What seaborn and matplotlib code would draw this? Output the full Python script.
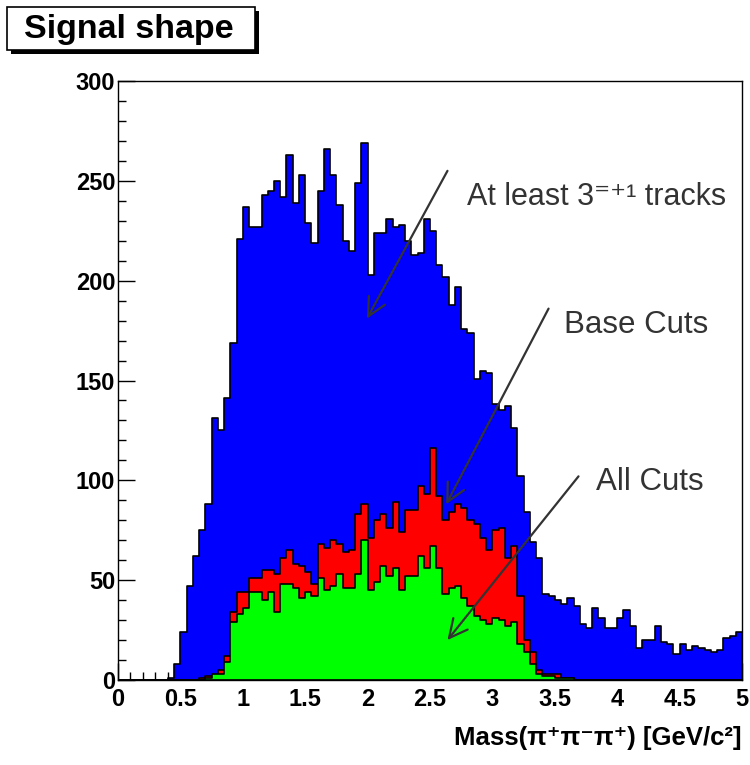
import numpy as np
import pandas as pd
import matplotlib
matplotlib.use("Agg")
import matplotlib.pyplot as plt
from matplotlib.patches import Rectangle
from matplotlib.ticker import MultipleLocator
import seaborn as sns

# Binning: 100 bins of 0.05 GeV/c^2 between 0 and 5
bin_edges = np.linspace(0.0, 5.0, 101)

# Entries per bin, at least 3 (+1) tracks
tracks_3 = [
    0, 0, 0, 0, 0, 0, 0, 0, 1, 8,
    24, 47, 62, 75, 88, 131, 125, 141, 169, 221,
    237, 227, 227, 243, 245, 250, 242, 263, 239, 253,
    229, 219, 245, 266, 253, 238, 220, 215, 249, 269,
    203, 224, 224, 231, 227, 228, 220, 213, 214, 231,
    225, 208, 202, 188, 197, 176, 174, 151, 155, 154,
    138, 135, 137, 126, 102, 84, 69, 61, 43, 42,
    40, 38, 41, 37, 28, 26, 36, 31, 26, 26,
    31, 35, 27, 16, 20, 20, 27, 19, 18, 13,
    18, 15, 17, 16, 15, 14, 15, 21, 22, 24,
]

# Entries per bin after the base cuts
base_cuts = [
    0, 0, 0, 0, 0, 0, 0, 0, 0, 0,
    0, 0, 0, 1, 2, 1, 5, 12, 34, 44,
    44, 51, 51, 55, 55, 53, 61, 65, 58, 57,
    54, 48, 68, 66, 70, 68, 64, 65, 83, 88,
    71, 80, 83, 76, 89, 74, 85, 85, 97, 93,
    116, 92, 80, 84, 88, 86, 80, 78, 71, 65,
    75, 76, 61, 67, 42, 20, 14, 5, 3, 3,
    3, 1, 1, 0, 0, 0, 0, 0, 0, 0,
    0, 0, 0, 0, 0, 0, 0, 0, 0, 0,
    0, 0, 0, 0, 0, 0, 0, 0, 0, 0,
]

# Entries per bin after all cuts
all_cuts = [
    0, 0, 0, 0, 0, 0, 0, 0, 0, 0,
    0, 0, 0, 0, 1, 3, 3, 9, 29, 33,
    36, 44, 44, 40, 44, 34, 48, 48, 46, 41,
    44, 42, 51, 45, 47, 53, 46, 46, 53, 70,
    45, 49, 57, 52, 56, 45, 52, 52, 62, 56,
    67, 56, 43, 46, 47, 41, 37, 32, 30, 28,
    31, 30, 27, 29, 18, 14, 8, 3, 2, 2,
    1, 1, 1, 0, 0, 0, 0, 0, 0, 0,
    0, 0, 0, 0, 0, 0, 0, 0, 0, 0,
    0, 0, 0, 0, 0, 0, 0, 0, 0, 0,
]

y_ticks = [0, 50, 100, 150, 200, 250, 300]
x_ticks = [0, 0.5, 1, 1.5, 2, 2.5, 3, 3.5, 4, 4.5, 5]
x_tick_labels = ["0", "0.5", "1", "1.5", "2", "2.5", "3", "3.5", "4", "4.5", "5"]

centers = 0.5 * (bin_edges[:-1] + bin_edges[1:])
df = pd.DataFrame({
    "mass": centers,
    "tracks_3": tracks_3,
    "base_cuts": base_cuts,
    "all_cuts": all_cuts,
})

sns.set_style("ticks")
plt.rcParams["font.family"] = ["Liberation Sans", "DejaVu Sans"]
plt.rcParams.update({
    "xtick.direction": "in",
    "ytick.direction": "in",
    "xtick.major.size": 12,
    "ytick.major.size": 12,
    "xtick.minor.size": 6,
    "ytick.minor.size": 6,
    "xtick.major.width": 1.0,
    "ytick.major.width": 1.0,
    "xtick.minor.width": 1.0,
    "ytick.minor.width": 1.0,
    "xtick.color": "black",
    "ytick.color": "black",
    "axes.edgecolor": "black",
    "axes.linewidth": 1.0,
})

W, H = 750, 765
fig = plt.figure(figsize=(W / 100, H / 100), dpi=100)
fig.patch.set_facecolor("white")
ax = fig.add_axes([118 / W, 85 / H, 624 / W, 599 / H])

hist_style = dict(bins=bin_edges.tolist(), element="step", fill=True, alpha=1.0,
                  edgecolor="black", linewidth=1.2)
sns.histplot(data=df, x="mass", weights="tracks_3", color="#0000ff", ax=ax, **hist_style)
sns.histplot(data=df, x="mass", weights="base_cuts", color="#ff0000", ax=ax, **hist_style)
sns.histplot(data=df, x="mass", weights="all_cuts", color="#00ff00", ax=ax, **hist_style)

ax.set_xlim(0, 5)
ax.set_ylim(0, 300)
ax.set_xlabel("")
ax.set_ylabel("")
ax.set_xticks(x_ticks)
ax.set_xticklabels(x_tick_labels)
ax.set_yticks(y_ticks)
ax.xaxis.set_minor_locator(MultipleLocator(0.1))
ax.yaxis.set_minor_locator(MultipleLocator(10))
ax.tick_params(axis="both", which="both", top=False, right=False)
ax.tick_params(axis="x", which="major", pad=6)
ax.tick_params(axis="y", which="major", pad=2)
for lab in ax.get_xticklabels() + ax.get_yticklabels():
    lab.set_fontweight("bold")
    lab.set_fontsize(17)
for sp in ax.spines.values():
    sp.set_visible(True)
    sp.set_color("black")
    sp.set_linewidth(1.0)

# Axis title, right-aligned under the frame
fig.text(742 / W, 1 - 738 / H, "Mass(π⁺π⁻π⁺) [GeV/c²]", ha="right", va="center",
         fontsize=18.5, fontweight="bold", color="black")

# Annotations with arrows
note_color = "#333333"
arrow_kw = dict(arrowstyle="->,head_length=0.6,head_width=0.3", color=note_color,
                lw=1.6, shrinkA=0, shrinkB=0, mutation_scale=22)
ax.annotate("", xy=(1.995, 181), xytext=(2.64, 255), arrowprops=arrow_kw)
ax.annotate("", xy=(2.63, 88), xytext=(3.45, 186), arrowprops=arrow_kw)
ax.annotate("", xy=(2.64, 20), xytext=(3.69, 102), arrowprops=arrow_kw)
ax.text(2.80, 238, "At least 3⁼⁺¹ tracks", fontsize=22, color=note_color,
        ha="left", va="baseline")
ax.text(3.57, 174, "Base Cuts", fontsize=22.5, color=note_color, ha="left", va="baseline")
ax.text(3.83, 95, "All Cuts", fontsize=22.5, color=note_color, ha="left", va="baseline")

# Title box with drop shadow
fig.patches.append(Rectangle((11 / W, 1 - 54 / H), 248 / W, 43 / H, transform=fig.transFigure,
                             facecolor="black", edgecolor="black", lw=0, zorder=5))
fig.patches.append(Rectangle((7 / W, 1 - 50 / H), 248 / W, 43 / H, transform=fig.transFigure,
                             facecolor="white", edgecolor="black", lw=1.2, zorder=6))
fig.text(24 / W, 1 - 38 / H, "Signal shape", fontsize=24.5, fontweight="bold",
         ha="left", va="baseline", color="black", zorder=7)

fig.savefig("out.png", dpi=100, facecolor="white")
